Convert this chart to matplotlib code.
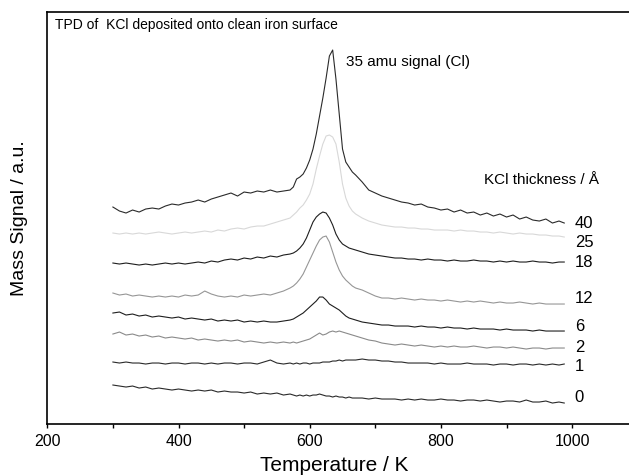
import matplotlib
matplotlib.use('agg')
import matplotlib.pyplot as plt
from matplotlib.ticker import MultipleLocator

# temperature grid (K), finer around the desorption peak
temps = [300, 310, 320, 330, 340, 350, 360, 370, 380, 390,
         400, 410, 420, 430, 440, 450, 460, 470, 480, 490,
         500, 510, 520, 530, 540, 550, 560, 570, 575, 580,
         585, 590, 595, 600, 605, 610, 615, 620, 625, 630,
         635, 640, 645, 650, 655, 660, 665, 670, 680, 690,
         700, 710, 720, 730, 740, 750, 760, 770, 780, 790,
         800, 810, 820, 830, 840, 850, 860, 870, 880, 890,
         900, 910, 920, 930, 940, 950, 960, 970, 980, 988]

# offset mass signals (a.u.), one list per KCl thickness
sig_40 = [217, 213, 211, 214, 212, 215, 216, 215, 218, 220,
          219, 221, 222, 224, 222, 225, 227, 229, 231, 228,
          232, 231, 233, 232, 234, 232, 233, 234, 237, 245,
          247, 250, 256, 264, 275, 290, 308, 326, 346, 368,
          374, 345, 310, 275, 262, 257, 252, 249, 242, 234,
          231, 228, 226, 224, 222, 221, 219, 220, 217, 216,
          214, 215, 212, 214, 211, 212, 209, 211, 208, 210,
          207, 209, 205, 207, 204, 203, 205, 201, 203, 201]
sig_25 = [191, 190, 191, 190, 191, 190, 191, 192, 191, 190,
          191, 192, 191, 192, 193, 192, 194, 193, 195, 196,
          195, 197, 198, 198, 200, 202, 204, 206, 209, 212,
          216, 219, 224, 230, 240, 255, 268, 280, 288, 289,
          287, 280, 262, 240, 226, 218, 213, 210, 206, 203,
          201, 199, 198, 197, 197, 196, 196, 195, 195, 194,
          194, 194, 193, 194, 193, 193, 192, 192, 191, 192,
          191, 190, 191, 190, 190, 189, 189, 188, 188, 187]
sig_18 = [161, 160, 161, 160, 159, 160, 159, 160, 161, 160,
          161, 160, 161, 162, 161, 163, 162, 164, 165, 164,
          166, 165, 167, 166, 168, 167, 169, 170, 171, 173,
          176, 180, 186, 194, 202, 207, 210, 212, 211, 206,
          199, 190, 184, 180, 178, 176, 175, 174, 172, 170,
          169, 168, 167, 166, 166, 165, 165, 164, 165, 164,
          164, 163, 164, 163, 163, 164, 163, 163, 162, 163,
          162, 163, 162, 162, 163, 162, 162, 161, 162, 162]
sig_12 = [131, 129, 130, 128, 129, 128, 127, 128, 127, 128,
          127, 129, 128, 129, 133, 130, 128, 127, 128, 127,
          129, 128, 129, 130, 129, 131, 133, 136, 138, 141,
          145, 150, 157, 164, 171, 178, 184, 187, 188, 182,
          172, 162, 154, 148, 144, 141, 138, 136, 134, 131,
          128, 126, 126, 125, 126, 125, 124, 125, 124, 124,
          123, 124, 123, 122, 123, 122, 123, 122, 121, 122,
          121, 121, 122, 121, 120, 121, 120, 120, 120, 120]
sig_6 = [111, 112, 109, 110, 108, 109, 107, 108, 107, 106,
         107, 105, 106, 105, 104, 105, 103, 104, 103, 104,
         102, 103, 102, 103, 102, 102, 103, 104, 105, 107,
         109, 111, 114, 117, 120, 123, 127, 127, 124, 120,
         118, 116, 114, 111, 108, 106, 105, 104, 102, 101,
         100, 99, 99, 98, 98, 98, 97, 98, 97, 97,
         96, 97, 96, 96, 95, 96, 95, 95, 95, 94,
         95, 94, 94, 94, 93, 94, 93, 93, 93, 93]
sig_2 = [90, 92, 89, 90, 88, 89, 87, 88, 86, 87,
         86, 85, 86, 84, 85, 84, 83, 84, 83, 84,
         82, 83, 82, 81, 82, 81, 82, 81, 82, 81,
         82, 83, 84, 85, 87, 89, 91, 89, 90, 92,
         93, 92, 93, 92, 91, 90, 89, 88, 86, 84,
         83, 81, 80, 79, 80, 79, 78, 79, 78, 77,
         78, 77, 78, 77, 77, 78, 77, 76, 77, 77,
         76, 77, 76, 75, 76, 76, 75, 76, 76, 76]
sig_1 = [62, 61, 62, 61, 61, 60, 61, 61, 60, 61,
         61, 60, 61, 61, 60, 61, 60, 61, 61, 60,
         61, 61, 60, 62, 64, 61, 60, 61, 60, 61,
         60, 61, 61, 60, 61, 61, 61, 62, 62, 62,
         63, 63, 64, 63, 64, 64, 64, 64, 65, 64,
         64, 63, 63, 62, 62, 61, 61, 61, 61, 60,
         61, 60, 60, 60, 61, 60, 60, 60, 59, 60,
         60, 59, 60, 60, 59, 60, 59, 60, 59, 60]
sig_0 = [39, 38, 37, 38, 36, 37, 35, 36, 35, 34,
         35, 34, 33, 34, 33, 34, 32, 33, 32, 32,
         31, 32, 30, 31, 30, 31, 29, 30, 29, 28,
         29, 28, 29, 28, 29, 29, 30, 29, 28, 28,
         27, 28, 27, 27, 26, 27, 26, 26, 26, 25,
         26, 25, 25, 25, 24, 25, 24, 25, 24, 24,
         25, 24, 24, 23, 24, 24, 23, 24, 23, 22,
         23, 23, 22, 24, 22, 22, 23, 21, 22, 21]

thickness = ['40', '25', '18', '12', '6', '2', '1', '0']
label_y = [201, 182, 162, 126, 98, 77, 58, 27]
colors = ['#2a2a2a', '#d8d8d8', '#1e1e1e', '#969696', '#1e1e1e', '#8a8a8a', '#2a2a2a', '#2a2a2a']

plt.rcParams['font.family'] = ['Liberation Sans', 'DejaVu Sans']

fig = plt.figure(figsize=(6.29, 4.76), dpi=100)
ax = fig.add_axes([0.0752, 0.1092, 0.9248, 0.8649])

series = [sig_40, sig_25, sig_18, sig_12, sig_6, sig_2, sig_1, sig_0]
for sig, col in zip(series, colors):
    ax.plot(temps, sig, color=col, lw=0.8)

for lab, y in zip(thickness, label_y):
    ax.text(1004, y, lab, fontsize=12, va='center', ha='left')

ax.text(212, 399, 'TPD of  KCl deposited onto clean iron surface', fontsize=10, va='center')
ax.text(655, 362, '35 amu signal (Cl)', fontsize=11, va='center')
ax.text(866, 244, 'KCl thickness / Å', fontsize=11, va='center')

ax.set_xlim(200, 1086.7)
ax.set_ylim(0, 411.7)
ax.xaxis.set_major_locator(MultipleLocator(200))
ax.xaxis.set_minor_locator(MultipleLocator(100))
ax.tick_params(axis='x', which='both', direction='out', length=3, width=1, labelsize=11.5, pad=4)
ax.set_yticks([])
ax.spines['right'].set_visible(False)
for s in ['left', 'bottom', 'top']:
    ax.spines[s].set_linewidth(1.2)

ax.set_xlabel('Temperature / K', fontsize=15)
ax.xaxis.set_label_coords(0.493, -0.0996)
ax.xaxis.label.set_va('center')
ax.set_ylabel('Mass Signal / a.u.', fontsize=14)
ax.yaxis.set_label_coords(-0.047, 0.5)
ax.yaxis.label.set_va('center')

fig.savefig('out.png', dpi=100)
